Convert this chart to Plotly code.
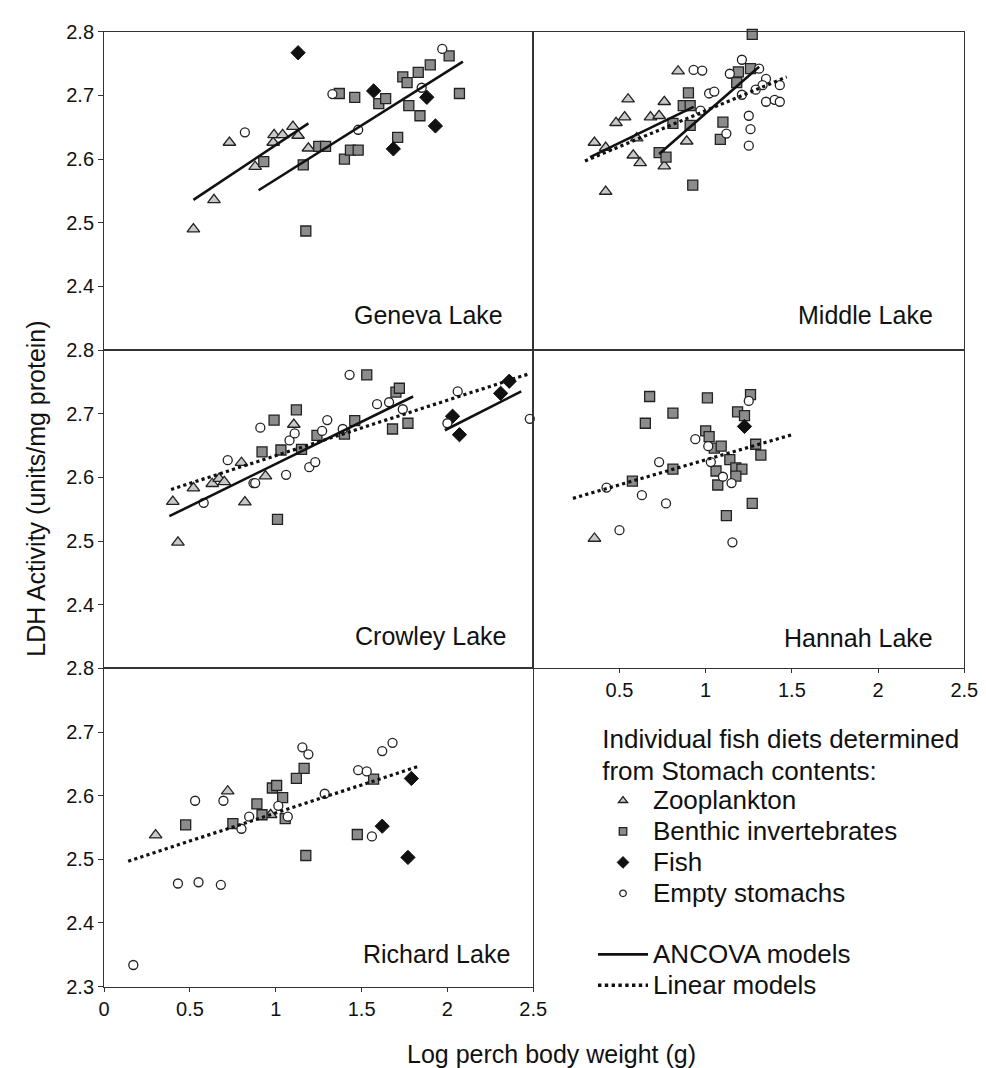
import plotly.graph_objects as go

# ---------------- data (log body weight, LDH activity) ----------------
GENEVA_ZOO = [(0.52, 2.490), (0.64, 2.536), (0.73, 2.626), (0.88, 2.588), (0.985, 2.626),
              (0.99, 2.638), (1.04, 2.638), (1.10, 2.651), (1.13, 2.637), (1.19, 2.617)]
GENEVA_BEN = [(0.93, 2.596), (1.16, 2.591), (1.175, 2.487), (1.25, 2.620), (1.29, 2.620),
              (1.37, 2.703), (1.40, 2.600), (1.435, 2.614), (1.48, 2.614), (1.46, 2.697),
              (1.60, 2.687), (1.64, 2.695), (1.71, 2.634), (1.74, 2.729), (1.765, 2.720),
              (1.775, 2.684), (1.83, 2.736), (1.84, 2.668), (1.90, 2.748), (2.01, 2.762),
              (2.07, 2.703)]
GENEVA_FISH = [(1.13, 2.767), (1.57, 2.707), (1.685, 2.616), (1.88, 2.697), (1.93, 2.652)]
GENEVA_EMPTY = [(0.82, 2.642), (1.33, 2.702), (1.48, 2.646), (1.85, 2.712), (1.97, 2.773)]
GENEVA_ANCOVA = [[(0.52, 2.536), (1.19, 2.656)], [(0.90, 2.551), (2.09, 2.753)]]
GENEVA_LINEAR = []

MIDDLE_ZOO = [(0.84, 2.738), (0.55, 2.694), (0.53, 2.666), (0.48, 2.657), (0.76, 2.690),
              (0.68, 2.666), (0.73, 2.668), (0.60, 2.633), (0.355, 2.626), (0.42, 2.618),
              (0.58, 2.606), (0.62, 2.594), (0.42, 2.549), (0.76, 2.589), (0.89, 2.628)]
MIDDLE_BEN = [(1.27, 2.796), (1.19, 2.737), (1.18, 2.720), (1.26, 2.742), (0.90, 2.704),
              (0.87, 2.684), (0.91, 2.684), (0.81, 2.656), (0.91, 2.653), (1.10, 2.658),
              (1.085, 2.631), (0.73, 2.610), (0.77, 2.603), (0.925, 2.559)]
MIDDLE_FISH = []
MIDDLE_EMPTY = [(1.21, 2.756), (0.93, 2.740), (0.98, 2.739), (1.14, 2.734), (1.31, 2.742),
                (1.35, 2.726), (1.33, 2.716), (1.43, 2.716), (1.29, 2.709), (1.21, 2.701),
                (1.02, 2.703), (1.05, 2.706), (0.97, 2.676), (1.35, 2.690), (1.40, 2.693),
                (1.43, 2.690), (1.25, 2.668), (1.26, 2.647), (1.25, 2.621), (1.12, 2.640)]
MIDDLE_ANCOVA = [[(0.33, 2.603), (0.93, 2.682)], [(0.73, 2.608), (1.31, 2.745)]]
MIDDLE_LINEAR = [[(0.30, 2.597), (1.47, 2.729)]]

CROWLEY_ZOO = [(0.43, 2.498), (0.40, 2.562), (0.52, 2.583), (0.63, 2.590), (0.67, 2.598),
               (0.70, 2.593), (0.80, 2.623), (0.82, 2.561), (0.94, 2.602), (1.105, 2.683)]
CROWLEY_BEN = [(0.99, 2.690), (1.12, 2.706), (0.92, 2.640), (1.03, 2.643), (1.01, 2.534),
               (1.15, 2.644), (1.24, 2.666), (1.40, 2.668), (1.46, 2.689), (1.53, 2.761),
               (1.68, 2.676), (1.70, 2.734), (1.72, 2.740), (1.77, 2.685)]
CROWLEY_FISH = [(2.03, 2.696), (2.07, 2.667), (2.31, 2.732), (2.36, 2.751)]
CROWLEY_EMPTY = [(0.58, 2.560), (0.72, 2.627), (0.91, 2.678), (0.87, 2.591), (0.88, 2.591),
                 (1.06, 2.604), (1.08, 2.658), (1.11, 2.669), (1.195, 2.616), (1.23, 2.624),
                 (1.27, 2.673), (1.30, 2.690), (1.39, 2.676), (1.43, 2.761), (1.59, 2.715),
                 (1.66, 2.718), (1.74, 2.707), (2.00, 2.685), (2.06, 2.735), (2.48, 2.692)]
CROWLEY_ANCOVA = [[(0.38, 2.539), (1.80, 2.727)], [(1.985, 2.674), (2.43, 2.735)]]
CROWLEY_LINEAR = [[(0.39, 2.581), (2.48, 2.763)]]

HANNAH_ZOO = [(0.355, 2.504)]
HANNAH_BEN = [(0.675, 2.727), (1.01, 2.725), (1.26, 2.730), (0.81, 2.701), (0.65, 2.685),
              (1.185, 2.703), (1.225, 2.697), (1.00, 2.673), (1.02, 2.664), (1.05, 2.646),
              (1.09, 2.649), (1.29, 2.652), (1.32, 2.635), (1.14, 2.628), (1.175, 2.615),
              (1.21, 2.613), (1.175, 2.602), (1.06, 2.610), (1.07, 2.588), (0.81, 2.613),
              (0.575, 2.594), (1.27, 2.559), (1.12, 2.540)]
HANNAH_FISH = [(1.225, 2.680)]
HANNAH_EMPTY = [(1.25, 2.720), (0.94, 2.660), (1.015, 2.649), (0.73, 2.624), (1.03, 2.624),
                (1.10, 2.601), (1.15, 2.591), (0.425, 2.584), (0.63, 2.572), (0.77, 2.559),
                (0.50, 2.517), (1.155, 2.498)]
HANNAH_ANCOVA = []
HANNAH_LINEAR = [[(0.23, 2.567), (1.50, 2.667)]]

RICHARD_ZOO = [(0.30, 2.538), (0.72, 2.607), (0.97, 2.570)]
RICHARD_BEN = [(0.475, 2.554), (0.75, 2.556), (0.89, 2.587), (0.92, 2.570), (0.98, 2.612),
               (1.005, 2.616), (1.04, 2.597), (1.055, 2.564), (1.12, 2.627), (1.165, 2.643),
               (1.175, 2.506), (1.475, 2.539), (1.57, 2.626)]
RICHARD_FISH = [(1.79, 2.627), (1.62, 2.552), (1.77, 2.503)]
RICHARD_EMPTY = [(0.17, 2.334), (0.43, 2.462), (0.55, 2.464), (0.68, 2.460), (0.53, 2.592),
                 (0.695, 2.592), (0.80, 2.548), (0.845, 2.567), (1.015, 2.584), (1.07, 2.567),
                 (1.155, 2.676), (1.19, 2.665), (1.285, 2.603), (1.48, 2.640), (1.53, 2.638),
                 (1.56, 2.536), (1.62, 2.670), (1.68, 2.683)]
RICHARD_ANCOVA = []
RICHARD_LINEAR = [[(0.14, 2.497), (1.83, 2.646)]]

LAKE_NAMES = ["Geneva Lake", "Middle Lake", "Crowley Lake", "Hannah Lake", "Richard Lake"]
DIET_NAMES = ["Zooplankton", "Benthic invertebrates", "Fish", "Empty stomachs"]
MODEL_NAMES = ["ANCOVA models", "Linear models"]
LEGEND_TITLE = ["Individual fish diets determined", "from Stomach contents:"]
X_TICKS = [0, 0.5, 1, 1.5, 2, 2.5]
X_TICK_TEXT = ["0", "0.5", "1", "1.5", "2", "2.5"]
Y_TICKS = [2.3, 2.4, 2.5, 2.6, 2.7, 2.8]
Y_TICK_TEXT = ["2.3", "2.4", "2.5", "2.6", "2.7", "2.8"]

PANELS = [
    (GENEVA_ZOO, GENEVA_BEN, GENEVA_FISH, GENEVA_EMPTY, GENEVA_ANCOVA, GENEVA_LINEAR),
    (MIDDLE_ZOO, MIDDLE_BEN, MIDDLE_FISH, MIDDLE_EMPTY, MIDDLE_ANCOVA, MIDDLE_LINEAR),
    (CROWLEY_ZOO, CROWLEY_BEN, CROWLEY_FISH, CROWLEY_EMPTY, CROWLEY_ANCOVA, CROWLEY_LINEAR),
    (HANNAH_ZOO, HANNAH_BEN, HANNAH_FISH, HANNAH_EMPTY, HANNAH_ANCOVA, HANNAH_LINEAR),
    (RICHARD_ZOO, RICHARD_BEN, RICHARD_FISH, RICHARD_EMPTY, RICHARD_ANCOVA, RICHARD_LINEAR),
]

# ---------------- styling ----------------
W, H = 986, 1068
FONT = "Liberation Sans, Arial, Helvetica, sans-serif"
INK = "#111111"
EDGE = "#222222"
SYMBOLS = ["triangle-up", "square", "diamond", "circle"]
FILLS = ["#c9c9c9", "#8c8c8c", "#111111", "#ffffff"]
PLOT_SIZES = [11, 10, 11, 9]
LEGEND_SIZES = [8, 7.5, 9, 6.5]
MODEL_STYLE = [dict(color=INK, width=2.6, dash="solid"),
               dict(color=INK, width=3.2, dash="dot")]


def marker(d, size):
    return dict(symbol=SYMBOLS[d], size=size, color=FILLS[d],
                line=dict(color=EDGE if d != 2 else INK, width=1.3 if d != 2 else 1))


def big(txt):
    return f'<span style="font-size:26px">{txt}</span>'


LEFT = [92 / W, 530 / W]
RIGHT = [530 / W, 970 / W]
ROWS = [[1 - 338 / H, 1 - 13 / H], [1 - 663 / H, 1 - 338 / H], [1 - 988 / H, 1 - 663 / H]]
DOMAINS = [(LEFT, ROWS[0]), (RIGHT, ROWS[0]), (LEFT, ROWS[1]), (RIGHT, ROWS[1]), (LEFT, ROWS[2])]
LABEL_POS = [(2.335, 2.355), (2.33, 2.355), (2.35, 2.351), (2.33, 2.348), (2.378, 2.352)]

fig = go.Figure()


def ax_name(i):
    return ("x" if i == 1 else f"x{i}"), ("y" if i == 1 else f"y{i}")


for i, panel in enumerate(PANELS, start=1):
    xa, ya = ax_name(i)
    for d, pts in enumerate(panel[:4]):
        if not pts:
            continue
        fig.add_trace(go.Scatter(
            x=[p[0] for p in pts], y=[p[1] for p in pts], mode="markers",
            marker=marker(d, PLOT_SIZES[d]), name=DIET_NAMES[d],
            showlegend=False, cliponaxis=False, xaxis=xa, yaxis=ya))
    for m, lines in enumerate(panel[4:]):
        for seg in lines:
            fig.add_trace(go.Scatter(
                x=[p[0] for p in seg], y=[p[1] for p in seg], mode="lines",
                line=MODEL_STYLE[m], name=MODEL_NAMES[m], showlegend=False,
                xaxis=xa, yaxis=ya))

# legend entries (empty traces, only used for the key)
for d in range(4):
    fig.add_trace(go.Scatter(x=[None], y=[None], mode="markers", marker=marker(d, LEGEND_SIZES[d]),
                             name=big(DIET_NAMES[d]), legendgroup="diet", showlegend=True))
for m in range(2):
    fig.add_trace(go.Scatter(x=[None], y=[None], mode="lines",
                             line=dict(MODEL_STYLE[m], width=2.8 if m == 0 else 3.4),
                             name=big(MODEL_NAMES[m]), legendgroup="model", showlegend=True))

layout = dict(
    width=W, height=H, margin=dict(l=0, r=0, t=0, b=0),
    paper_bgcolor="white", plot_bgcolor="white",
    font=dict(family=FONT, size=20, color=INK),
    showlegend=True,
    legend=dict(x=591 / W, y=1 - 712 / H, xanchor="left", yanchor="top",
                font=dict(family=FONT, size=21.5, color=INK),
                title=dict(text="<br>".join(big(" " + t) for t in LEGEND_TITLE),
                           font=dict(family=FONT, size=24.5, color=INK)),
                traceorder="grouped", tracegroupgap=30, itemwidth=50,
                bgcolor="rgba(0,0,0,0)", borderwidth=0),
)

annotations = []
for i in range(1, 6):
    xa, ya = ax_name(i)
    xkey = "xaxis" if i == 1 else f"xaxis{i}"
    ykey = "yaxis" if i == 1 else f"yaxis{i}"
    xd, yd = DOMAINS[i - 1]
    xaxis = dict(domain=xd, range=[0, 2.5], anchor=ya, showgrid=False, zeroline=False,
                 showline=True, linecolor="#333333", linewidth=1.2, mirror=True,
                 ticks="", showticklabels=False, tickfont=dict(size=20))
    yaxis = dict(domain=yd, range=[2.3, 2.8], anchor=xa, showgrid=False, zeroline=False,
                 showline=True, linecolor="#333333", linewidth=1.2, mirror=True,
                 ticks="", showticklabels=False, tickfont=dict(size=20))
    if i == 5:
        xaxis.update(ticks="outside", ticklen=4, tickcolor="#333333", showticklabels=True,
                     tickvals=X_TICKS, ticktext=X_TICK_TEXT)
    if i == 4:
        xaxis.update(ticks="outside", ticklen=4, tickcolor="#333333", showticklabels=True,
                     tickvals=X_TICKS[1:], ticktext=X_TICK_TEXT[1:])
    if i in (1, 3):
        yaxis.update(ticks="outside", ticklen=5, tickcolor="#333333", showticklabels=True,
                     tickvals=Y_TICKS[1:], ticktext=Y_TICK_TEXT[1:])
    if i == 5:
        yaxis.update(ticks="outside", ticklen=5, tickcolor="#333333", showticklabels=True,
                     tickvals=Y_TICKS, ticktext=Y_TICK_TEXT)
    layout[xkey] = xaxis
    layout[ykey] = yaxis
    lx, ly = LABEL_POS[i - 1]
    annotations.append(dict(text=LAKE_NAMES[i - 1], x=lx, y=ly, xref=xa, yref=ya,
                            xanchor="right", yanchor="middle", showarrow=False,
                            font=dict(family=FONT, size=25, color=INK)))

annotations.append(dict(text="LDH Activity (units/mg protein)", x=23 / W, y=1 - 480 / H,
                        xref="paper", yref="paper", textangle=-90, showarrow=False,
                        xanchor="center", yanchor="middle",
                        font=dict(family=FONT, size=25, color=INK)))
annotations.append(dict(text="Log perch body weight (g)", x=549 / W, y=1 - 1057 / H,
                        xref="paper", yref="paper", showarrow=False,
                        xanchor="center", yanchor="middle",
                        font=dict(family=FONT, size=25, color=INK)))
layout["annotations"] = annotations

fig.update_layout(**layout)
fig.write_html("out.html")
